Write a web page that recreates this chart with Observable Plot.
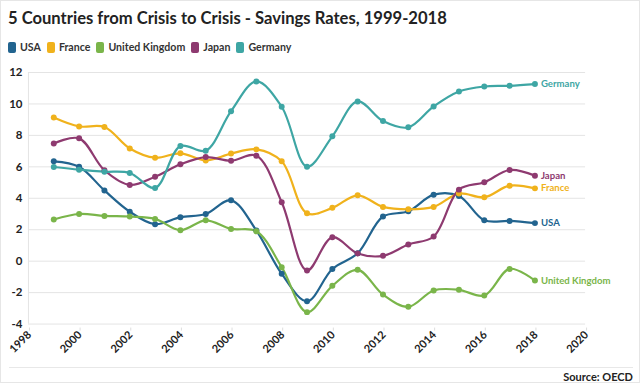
<!DOCTYPE html>
<html>
<head>
<meta charset="utf-8">
<script src="https://cdn.jsdelivr.net/npm/d3@7"></script>
<script src="https://cdn.jsdelivr.net/npm/@observablehq/plot@0.6"></script>
<style>
  html, body { margin: 0; padding: 0; background: #fff; }
  #frame { position: relative; width: 638px; height: 381px; border: 1px solid #e6e6e6; overflow: hidden; font-family: Lato, "Open Sans", sans-serif; }
  #title { position: absolute; left: 7px; top: 7px; font-size: 16.6px; font-weight: 700; color: #222; white-space: nowrap; }
  #legend { position: absolute; left: 7px; top: 40px; font-size: 10.6px; font-weight: 700; color: #333; display: flex; gap: 6px; }
  #legend span.item { display: flex; align-items: center; }
  #legend span.sw { display: inline-block; width: 8px; height: 11px; border-radius: 2px; margin-right: 4px; }
  #chart { position: absolute; left: -1px; top: 57px; }
  #rule { position: absolute; left: 8px; right: 6px; top: 366px; border-top: 1px solid #e8e8e8; }
  #source { position: absolute; right: 6px; top: 369px; font-size: 11px; font-weight: 700; color: #222; }
</style>
</head>
<body>
<div id="frame">
  <div id="title"></div>
  <div id="legend"></div>
  <div id="chart"></div>
  <div id="rule"></div>
  <div id="source">Source: OECD</div>
</div>
<script>
const titleText = "5 Countries from Crisis to Crisis - Savings Rates, 1999-2018";
const years = [1999,2000,2001,2002,2003,2004,2005,2006,2007,2008,2009,2010,2011,2012,2013,2014,2015,2016,2017,2018];
const countries = ["USA", "France", "United Kingdom", "Japan", "Germany"];
const colors = ["#22648f", "#f0b21c", "#7ab54a", "#8e3a70", "#3ea6a4"];
const usa     = [6.35, 6.0, 4.5, 3.15, 2.35, 2.8, 3.0, 3.87, 1.95, -0.8, -2.55, -0.5, 0.5, 2.84, 3.17, 4.23, 4.15, 2.6, 2.56, 2.42];
const france  = [9.14, 8.57, 8.53, 7.17, 6.58, 6.86, 6.41, 6.84, 7.11, 6.35, 3.05, 3.39, 4.19, 3.45, 3.3, 3.45, 4.3, 4.06, 4.8, 4.63];
const uk      = [2.65, 3.0, 2.88, 2.84, 2.69, 1.97, 2.6, 2.05, 1.9, -0.38, -3.24, -1.57, -0.55, -2.12, -2.9, -1.86, -1.82, -2.18, -0.49, -1.23];
const japan   = [7.49, 7.81, 5.78, 4.85, 5.37, 6.16, 6.62, 6.39, 6.71, 3.75, -0.59, 1.52, 0.49, 0.34, 1.06, 1.57, 4.55, 5.02, 5.8, 5.44];
const germany = [5.99, 5.82, 5.69, 5.61, 4.66, 7.32, 7.03, 9.54, 11.43, 9.82, 6.01, 7.94, 10.16, 8.91, 8.51, 9.84, 10.79, 11.11, 11.15, 11.26];
const yTicks = [-4, -2, 0, 2, 4, 6, 8, 10, 12];
const xTicks = [1998, 2000, 2002, 2004, 2006, 2008, 2010, 2012, 2014, 2016, 2018, 2020];

const seriesValues = [usa, france, uk, japan, germany];
const data = [];
countries.forEach((c, i) => years.forEach((y, j) => data.push({country: c, year: y, value: seriesValues[i][j]})));
const lastPoints = countries.map((c, i) => ({country: c, year: years[years.length - 1], value: seriesValues[i][years.length - 1]}));

document.getElementById("title").textContent = titleText;
const legend = document.getElementById("legend");
countries.forEach((c, i) => {
  const it = document.createElement("span");
  it.className = "item";
  it.innerHTML = `<span class="sw" style="background:${colors[i]}"></span>${c}`;
  legend.appendChild(it);
});

const plot = Plot.plot({
  width: 640,
  height: 306,
  marginTop: 14,
  marginLeft: 28,
  marginRight: 54,
  marginBottom: 40,
  style: {fontFamily: "Lato, 'Open Sans', sans-serif", fontSize: "11.5px", fontWeight: 700, color: "#333", background: "transparent"},
  x: {domain: [1998, 2020], label: null},
  y: {domain: [-4, 12], label: null},
  color: {domain: countries, range: colors},
  marks: [
    Plot.gridY(yTicks, {stroke: "#e4e4e4", strokeOpacity: 1}),
    Plot.ruleX([1998], {stroke: "#e4e4e4"}),
    Plot.axisY(yTicks, {label: null, tickSize: 0, tickPadding: 6, tickFormat: d => String(d), fill: "#222", fontWeight: 700}),
    Plot.axisX(xTicks, {label: null, tickSize: 3, stroke: "#ddd", tickRotate: -45, tickPadding: 2, dx: 1, dy: 4, fontSize: 11, tickFormat: d => String(d), fill: "#222", fontWeight: 700}),
    Plot.line(data, {x: "year", y: "value", z: "country", stroke: "country", strokeWidth: 2.2, curve: "catmull-rom"}),
    Plot.dot(data, {x: "year", y: "value", fill: "country", r: 3}),
    Plot.text(lastPoints, {x: "year", y: "value", text: "country", fill: "country", dx: 6, textAnchor: "start", fontSize: 9.6, fontWeight: 700})
  ]
});
document.getElementById("chart").appendChild(plot);
</script>
</body>
</html>
